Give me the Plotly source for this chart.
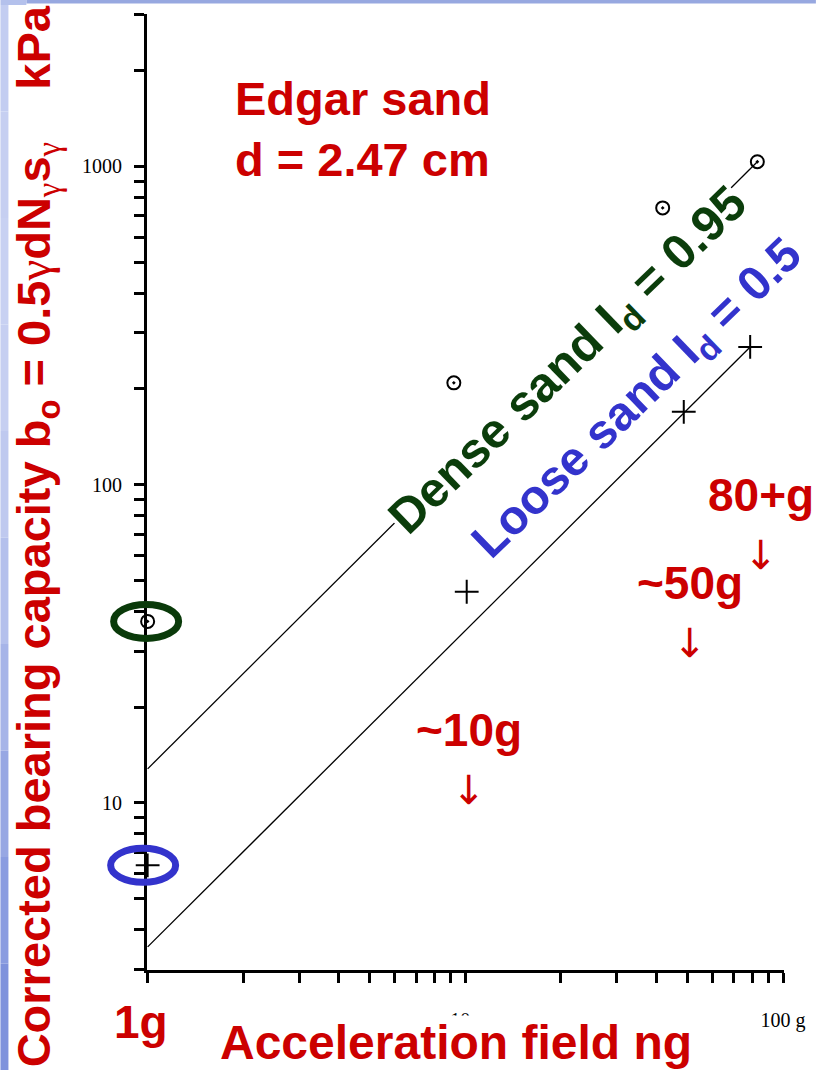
import numpy as np
import plotly.graph_objects as go

# ---------------- data ----------------
dense_x = [1, 9.2, 41.8, 83]
dense_y = [37.2, 209, 741, 1035]
loose_x = [1, 10.1, 48.7, 78.8]
loose_y = [6.37, 46.1, 169.5, 271]

dense_line_x = [1, 83]
dense_line_y = [12.8, 1035]
loose_line_x = [1, 78.8]
loose_line_y = [3.53, 271]

x_tick_vals = [1, 2, 3, 4, 5, 6, 7, 8, 9, 10, 20, 30, 40, 50, 60, 70, 80, 90, 100]
x_tick_text = ["", "", "", "", "", "", "", "", "", "10g", "", "", "", "", "", "", "", "", "100 g"]
y_tick_vals = [3, 4, 5, 6, 7, 8, 9, 10, 20, 30, 40, 50, 60, 70, 80, 90,
               100, 200, 300, 400, 500, 600, 700, 800, 900, 1000, 2000, 3000]
y_tick_text = ["", "", "", "", "", "", "", "10", "", "", "", "", "", "", "", "",
               "100", "", "", "", "", "", "", "", "", "1000", "", ""]

# ---------------- layout geometry ----------------
W, H = 818, 1070
L, R, T, B = 147, 786, 14, 970
XR = [-0.002, 2.003]
YR = [np.log10(3) - 0.002, np.log10(3000) + 0.002]


def pxx(xp):
    return (xp - L) / (R - L)


def pxy(yp):
    return (B - yp) / (B - T)


def dx2paper(v):
    return (np.log10(v) - XR[0]) / (XR[1] - XR[0])


def dy2paper(v):
    return (np.log10(v) - YR[0]) / (YR[1] - YR[0])


RED = "#cc0000"
GREEN = "#0b3d0b"
BLUE = "#3333cc"
SANS = "Arial, Liberation Sans, sans-serif"
SERIF = "Times New Roman, Liberation Serif, serif"

fig = go.Figure()

fig.add_trace(go.Scatter(x=dense_line_x, y=dense_line_y, mode="lines",
                         line=dict(color="black", width=1.3), hoverinfo="skip"))
fig.add_trace(go.Scatter(x=loose_line_x, y=loose_line_y, mode="lines",
                         line=dict(color="black", width=1.3), hoverinfo="skip"))
fig.add_trace(go.Scatter(x=dense_x, y=dense_y, mode="markers", cliponaxis=False,
                         marker=dict(symbol="circle-open-dot", size=13, color="black",
                                     line=dict(width=2, color="black"))))
fig.add_trace(go.Scatter(x=loose_x, y=loose_y, mode="markers", cliponaxis=False,
                         marker=dict(symbol="cross-thin", size=17, color="black",
                                     line=dict(width=2, color="black"))))

annotations = []


def ann(text, x, y, size, color, weight="bold", family=SANS, angle=0, xanchor="center",
        yanchor="middle", align="center", bg=None):
    d = dict(text=text, x=pxx(x), y=pxy(y), xref="paper", yref="paper", showarrow=False,
             font=dict(size=size, color=color, family=family, weight=weight),
             textangle=angle, xanchor=xanchor, yanchor=yanchor, align=align)
    if bg:
        d["bgcolor"] = bg
        d["borderpad"] = 0
    annotations.append(d)


G = "<span style=\"font-family:'Liberation Serif', serif; font-weight:normal\">γ</span>"

ann("Edgar sand<br>d = 2.47 cm", 233, 70, 47, RED, xanchor="left", yanchor="top", align="left")
ann("Dense sand I<sub>d</sub> = 0.95", 570, 362, 49, GREEN, angle=-44, bg="white")
ann("Loose sand I<sub>d</sub> = 0.5", 640, 400, 48, BLUE, angle=-44)
ann("80+g", 763, 495, 46, RED)
ann("↓", 763, 555, 40, RED, weight="normal", family="DejaVu Sans")
ann("~50g", 692, 583, 46, RED)
ann("↓", 692, 643, 40, RED, weight="normal", family="DejaVu Sans")
ann("~10g", 470, 730, 46, RED)
ann("↓", 470, 790, 40, RED, weight="normal", family="DejaVu Sans")
ann("1g", 141, 1022, 46, RED)
ann("Acceleration field ng", 457, 1042, 48, RED, bg="white")
ann("Corrected bearing capacity b<sub>o</sub> = 0.5" + G + "dN<sub>" + G + "</sub>s<sub>" + G +
    "</sub>&nbsp;&nbsp;&nbsp;&nbsp;kPa",
    37, 536, 47, RED, angle=-90)

shapes = []
# ellipses around the 1g points
shapes.append(dict(type="circle", xref="paper", yref="paper", xsizemode="pixel", ysizemode="pixel",
                   xanchor=dx2paper(dense_x[0]), yanchor=dy2paper(dense_y[0]),
                   x0=-34, x1=31, y0=-17, y1=17, line=dict(color="#0a3a0a", width=7)))
shapes.append(dict(type="circle", xref="paper", yref="paper", xsizemode="pixel", ysizemode="pixel",
                   xanchor=dx2paper(loose_x[0]), yanchor=dy2paper(loose_y[0]),
                   x0=-37, x1=28, y0=-17, y1=17, line=dict(color=BLUE, width=7)))

# slide frame decoration (blue bands on top and left)
shapes.append(dict(type="rect", xref="paper", yref="paper", x0=pxx(26), x1=pxx(W),
                   y0=pxy(3.5), y1=pxy(0), line=dict(width=0), fillcolor="#97a8e0"))
shapes.append(dict(type="rect", xref="paper", yref="paper", x0=pxx(0), x1=pxx(26),
                   y0=pxy(5), y1=pxy(0), line=dict(width=0), fillcolor="#b4c1ec"))
band_cols = ["#c3cdf1", "#c6cff1", "#c8d1f2", "#c6cff1", "#bfc9ef", "#b4c0ec",
             "#a6b4e8", "#97a7e3", "#8a9ce0", "#7f92dc"]
nb = len(band_cols)
for i, c in enumerate(band_cols):
    shapes.append(dict(type="rect", xref="paper", yref="paper", x0=pxx(0), x1=pxx(8),
                       y0=pxy(5 + (H - 5) * (i + 1) / nb), y1=pxy(5 + (H - 5) * i / nb),
                       line=dict(width=0), fillcolor=c))

fig.update_layout(
    width=W, height=H,
    margin=dict(l=L, r=W - R, t=T, b=H - B, pad=0),
    paper_bgcolor="white", plot_bgcolor="white",
    showlegend=False,
    annotations=annotations,
    shapes=shapes,
    xaxis=dict(type="log", range=XR, showgrid=False, zeroline=False,
               showline=True, linecolor="black", linewidth=3,
               ticks="outside", ticklen=10, tickwidth=2.5, tickcolor="black",
               tickvals=x_tick_vals, ticktext=x_tick_text, ticklabelstandoff=20,
               tickfont=dict(family=SERIF, size=20, color="black")),
    yaxis=dict(type="log", range=YR,
               showgrid=False, zeroline=False,
               showline=True, linecolor="black", linewidth=3,
               ticks="outside", ticklen=10, tickwidth=2.5, tickcolor="black",
               tickvals=y_tick_vals, ticktext=y_tick_text, ticklabelstandoff=8,
               tickfont=dict(family=SERIF, size=20, color="black")),
)

fig.write_html("out.html", config={"displayModeBar": False},
               post_script="document.body.style.margin='0';document.body.style.overflow='hidden';")
